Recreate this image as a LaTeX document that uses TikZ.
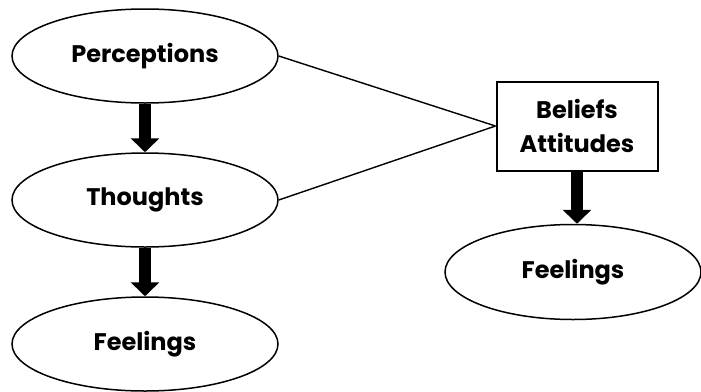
\documentclass[tikz,border=0pt]{standalone}
\usepackage{fontspec}
\setmainfont{Poppins}
\usetikzlibrary{shapes.geometric,arrows.meta}
\tikzset{%
  ellnode/.style  = {shape=ellipse, draw, line width=1.5pt, inner sep=0pt,%
                     minimum width=266pt, minimum height=94pt},%
  boxnode/.style  = {shape=rectangle, draw, line width=2pt, align=center,%
                     minimum width=161pt, minimum height=89pt},%
  fatarrow/.style = {line width=12pt, line join=miter,%
                     -{Triangle[width=28pt,length=14pt]}},%
  thinlink/.style = {line width=1.4pt}%
}

\begin{document}
\begin{tikzpicture}[x=1pt, y=-1pt, every node/.style = {font=\bfseries\fontsize{24}{34}\selectfont}]
  \useasboundingbox (0,0) rectangle (701,391);
  % left column
  \node[ellnode] (percep)   at (145,56)  {Perceptions};
  \node[ellnode] (thoughts) at (145,200) {Thoughts};
  \node[ellnode] (feelL)    at (145,344) {Feelings};
  % right side
  \node[boxnode] (beliefs)  at (577,126) {Beliefs\\Attitudes};
  \node[ellnode, minimum width=256pt, minimum height=95pt] (feelR) at (573,272) {Feelings};
  % connectors
  \draw[fatarrow] (percep.south) -- (thoughts.north);
  \draw[fatarrow] (thoughts.south) -- (feelL.north);
  \draw[fatarrow] (beliefs.south) -- (beliefs.south |- feelR.north);
  \draw[thinlink] (percep.east) -- (beliefs.west);
  \draw[thinlink] (thoughts.east) -- (beliefs.west);
\end{tikzpicture}
\end{document}
